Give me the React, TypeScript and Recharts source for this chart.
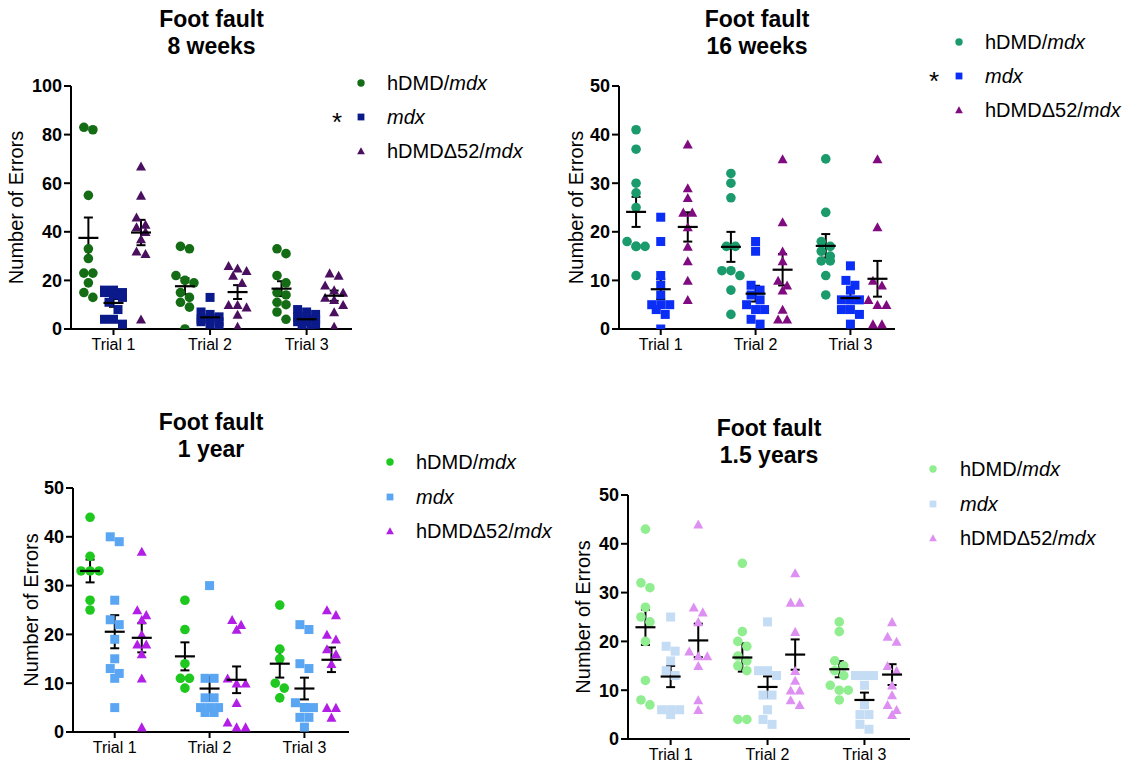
import React from "react";
import { ScatterChart, Scatter, XAxis, YAxis, ErrorBar } from "recharts";

const trials = ["Trial 1", "Trial 2", "Trial 3"];

// errors per animal, one array per trial (Trial 1, Trial 2, Trial 3)
const hdmd8w = [
  [82, 83, 55, 33, 29, 23, 23, 19, 15, 13],
  [34, 33, 22, 20, 19, 15, 13, 11, 9, 0],
  [33, 31, 22, 19, 15, 14, 11, 10, 7, 4],
];
const mdx8w = [
  [16, 16, 15, 15, 14, 13, 11, 8, 4, 4, 2],
  [13, 7, 6, 5, 4, 4, 3, 3, 2, 1],
  [8, 7, 6, 5, 5, 4, 3, 3, 2, 1, 0],
];
const d52_8w = [
  [67, 55, 46, 43, 42, 40, 37, 32, 31, 4],
  [26, 25, 24, 22, 19, 10, 9, 10, 6, 1],
  [23, 22, 18, 16, 15, 13, 12, 10, 7, 1],
];

const hdmd16w = [
  [41, 37, 30, 28, 25, 18, 17, 17, 17, 11],
  [32, 30, 27, 17, 17, 12, 12, 11, 8, 3],
  [35, 24, 18, 17, 16, 15, 14, 14, 11, 7],
];
const mdx16w = [
  [23, 18, 11, 9, 7, 5, 5, 5, 4, 3, 0],
  [18, 16, 9, 8, 7, 6, 5, 4, 4, 2, 1],
  [13, 10, 9, 8, 6, 6, 6, 4, 4, 3, 1],
];
const d52_16w = [
  [38, 29, 27, 24, 24, 21, 17, 14, 10, 6],
  [35, 22, 16, 14, 10, 9, 8, 4, 2, 2],
  [35, 21, 10, 9, 6, 5, 5, 1, 1],
];

const hdmd1y = [
  [44, 36, 33, 33, 33, 27, 25],
  [27, 21, 14, 11, 11, 9],
  [26, 17, 15, 10, 9, 7],
];
const mdx1y = [
  [40, 39, 27, 23, 22, 19, 15, 13, 12, 11, 5],
  [30, 11, 11, 7, 7, 5, 5, 5, 4, 4],
  [22, 21, 14, 13, 6, 5, 5, 5, 3, 3, 1],
];
const d52_1y = [
  [37, 25, 24, 23, 20, 18, 18, 16, 11, 1],
  [23, 22, 21, 11, 10, 10, 6, 2, 1, 1],
  [25, 24, 20, 19, 17, 16, 14, 5, 5, 3],
];

const hdmd15y = [
  [43, 32, 31, 27, 25, 24, 20, 12, 8, 7],
  [36, 22, 20, 19, 17, 16, 15, 14, 4, 4],
  [24, 22, 16, 15, 14, 13, 11, 10, 10, 8],
];
const mdx15y = [
  [25, 19, 18, 16, 14, 13, 6, 6, 6, 5],
  [24, 14, 14, 13, 9, 9, 6, 4, 3],
  [13, 13, 13, 11, 7, 5, 5, 3, 2],
];
const d52_15y = [
  [44, 27, 26, 24, 18, 17, 17, 15, 8, 6],
  [34, 28, 28, 22, 14, 12, 10, 10, 8, 7],
  [24, 21, 20, 15, 14, 11, 9, 7, 6, 5],
];

const FONT = '"Liberation Sans", Arial, Helvetica, sans-serif';
const X_DOMAIN: [number, number] = [0.56, 3.47];
const GROUP_OFFSET = [-0.26, 0, 0.285];
const AXIS_W = 70;
const MT = 20;
const MR = 10;
const XAXIS_H = 40;
const MARK = 9;
const STEP = 9;
const MAX_ROW = 3;

const mean = (v: number[]) => v.reduce((a, b) => a + b, 0) / v.length;
const sem = (v: number[]) => {
  const m = mean(v);
  const ss = v.reduce((a, b) => a + (b - m) * (b - m), 0);
  return Math.sqrt(ss / (v.length - 1)) / Math.sqrt(v.length);
};

// prism-like spread: points that would overlap are laid side by side, centred
function spread(values: number[], center: number, pxX: number, pxY: number) {
  const sorted = [...values].sort((a, b) => b - a);
  const rows: number[][] = [];
  let cur: number[] = [];
  for (const v of sorted) {
    if (cur.length && (cur[0] - v) * pxY < MARK * 0.9 && cur.length < MAX_ROW) cur.push(v);
    else {
      if (cur.length) rows.push(cur);
      cur = [v];
    }
  }
  if (cur.length) rows.push(cur);
  const out: { x: number; y: number }[] = [];
  rows.forEach((r) =>
    r.forEach((v, k) => out.push({ x: center + ((k - (r.length - 1) / 2) * STEP) / pxX, y: v }))
  );
  return out;
}

function drawMarker(kind: number, color: string, cx: number, cy: number, s: number) {
  if (kind === 0) return <circle cx={cx} cy={cy} r={s / 2 + 0.3} fill={color} />;
  if (kind === 1) return <rect x={cx - s / 2} y={cy - s / 2} width={s} height={s} fill={color} />;
  const h = s * 0.95;
  return (
    <polygon
      points={`${cx},${cy - h / 2 - 0.5} ${cx + s / 2 + 0.5},${cy + h / 2} ${cx - s / 2 - 0.5},${cy + h / 2}`}
      fill={color}
    />
  );
}

const MeanLine = (props: any) => {
  const { cx, cy } = props;
  return <line x1={cx - 10} x2={cx + 10} y1={cy} y2={cy} stroke="#000" strokeWidth={2.2} />;
};

type Panel = {
  title: string[];
  groups: number[][][];
  colors: string[];
  left: number;
  top: number;
  width: number;
  height: number;
  yMax: number;
  yStep: number;
  titleY: number;
  yLabelX: number;
  legendX: number;
  legendTextX: number;
  legendRows: number[];
  starX?: number;
};

const panels: Panel[] = [
  {
    title: ["Foot fault", "8 weeks"],
    groups: [hdmd8w, mdx8w, d52_8w],
    colors: ["#146c14", "#0b1a8a", "#4a0f5e"],
    left: 71, top: 86, width: 281, height: 243, yMax: 100, yStep: 20,
    titleY: 20, yLabelX: 16,
    legendX: 361, legendTextX: 387, legendRows: [83, 117, 151], starX: 340,
  },
  {
    title: ["Foot fault", "16 weeks"],
    groups: [hdmd16w, mdx16w, d52_16w],
    colors: ["#1b9b6c", "#0a2ef5", "#800a80"],
    left: 619, top: 86, width: 276, height: 243, yMax: 50, yStep: 10,
    titleY: 20, yLabelX: 576,
    legendX: 959, legendTextX: 985, legendRows: [42, 76, 110], starX: 937,
  },
  {
    title: ["Foot fault", "1 year"],
    groups: [hdmd1y, mdx1y, d52_1y],
    colors: ["#1ec81e", "#5aa6f2", "#b21ee6"],
    left: 73, top: 488, width: 276, height: 244, yMax: 50, yStep: 10,
    titleY: 423, yLabelX: 31,
    legendX: 390, legendTextX: 416, legendRows: [462, 497, 531],
  },
  {
    title: ["Foot fault", "1.5 years"],
    groups: [hdmd15y, mdx15y, d52_15y],
    colors: ["#90ee90", "#c5dcf5", "#de90f2"],
    left: 628, top: 495, width: 282, height: 244, yMax: 50, yStep: 10,
    titleY: 429, yLabelX: 583,
    legendX: 933, legendTextX: 960, legendRows: [469, 504, 538],
  },
];

const legendLabels = [
  <>hDMD/<i>mdx</i></>,
  <><i>mdx</i></>,
  <>hDMDΔ52/<i>mdx</i></>,
];

function FootFaultPanel({ p }: { p: Panel }) {
  const chartLeft = p.left - AXIS_W;
  const chartTop = p.top - MT;
  const pxX = p.width / (X_DOMAIN[1] - X_DOMAIN[0]);
  const pxY = p.height / p.yMax;
  const yTicks: number[] = [];
  for (let t = 0; t <= p.yMax; t += p.yStep) yTicks.push(t);

  const series = p.groups.map((g, gi) =>
    g.flatMap((vals, ti) => spread(vals, ti + 1 + GROUP_OFFSET[gi], pxX, pxY))
  );
  const means = p.groups.flatMap((g, gi) =>
    g.map((vals, ti) => ({ x: ti + 1 + GROUP_OFFSET[gi], y: mean(vals), sem: sem(vals) }))
  );

  return (
    <>
      <div
        style={{
          position: "absolute",
          left: p.left + p.width / 2 - 150,
          top: p.titleY - 14,
          width: 300,
          textAlign: "center",
          fontFamily: FONT,
          fontWeight: "bold",
          fontSize: 23,
          lineHeight: "27px",
          color: "#000",
        }}
      >
        {p.title[0]}
        <br />
        {p.title[1]}
      </div>

      <div style={{ position: "absolute", left: chartLeft, top: chartTop }}>
        <ScatterChart
          width={AXIS_W + p.width + MR}
          height={MT + p.height + XAXIS_H}
          margin={{ top: MT, right: MR, bottom: 0, left: 0 }}
        >
          <XAxis
            type="number"
            dataKey="x"
            domain={X_DOMAIN}
            ticks={[1, 2, 3]}
            interval={0}
            allowDataOverflow
            tickFormatter={(v: number) => trials[Math.round(v) - 1]}
            height={XAXIS_H}
            tickSize={6}
            tickMargin={4}
            axisLine={{ stroke: "#000", strokeWidth: 2 }}
            tickLine={{ stroke: "#000", strokeWidth: 2 }}
            tick={{ fill: "#000", fontSize: 16, fontFamily: FONT }}
          />
          <YAxis
            type="number"
            dataKey="y"
            domain={[0, p.yMax]}
            ticks={yTicks}
            interval={0}
            allowDataOverflow
            width={AXIS_W}
            tickSize={7}
            tickMargin={2}
            axisLine={{ stroke: "#000", strokeWidth: 2 }}
            tickLine={{ stroke: "#000", strokeWidth: 2 }}
            tick={{ fill: "#000", fontSize: 18, fontWeight: "bold", fontFamily: FONT }}
            label={{
              value: "Number of Errors",
              angle: -90,
              position: "insideLeft",
              offset: p.yLabelX - chartLeft,
              style: { textAnchor: "middle", fontSize: 20, fill: "#000", fontFamily: FONT },
            }}
          />
          {series.map((data, gi) => (
            <Scatter
              key={gi}
              data={data}
              fill={p.colors[gi]}
              isAnimationActive={false}
              shape={(props: any) => drawMarker(gi, p.colors[gi], props.cx, props.cy, MARK)}
            />
          ))}
          <Scatter data={means} fill="#000" shape={MeanLine} isAnimationActive={false}>
            <ErrorBar
              dataKey="sem"
              direction="y"
              width={4.5}
              strokeWidth={2}
              stroke="#000"
              isAnimationActive={false}
            />
          </Scatter>
        </ScatterChart>
      </div>

      {p.legendRows.map((row, gi) => (
        <React.Fragment key={gi}>
          <svg
            width={14}
            height={14}
            style={{ position: "absolute", left: p.legendX - 7, top: row - 7 }}
          >
            {drawMarker(gi, p.colors[gi], 7, 7, 6.8)}
          </svg>
          <div
            style={{
              position: "absolute",
              left: p.legendTextX,
              top: row - 12,
              fontFamily: FONT,
              fontSize: 20,
              lineHeight: "24px",
              whiteSpace: "nowrap",
              color: "#000",
            }}
          >
            {legendLabels[gi]}
          </div>
          {gi === 1 && p.starX !== undefined && (
            <div
              style={{
                position: "absolute",
                left: p.starX - 8,
                top: row - 10,
                fontFamily: FONT,
                fontSize: 26,
                lineHeight: "30px",
                color: "#000",
              }}
            >
              *
            </div>
          )}
        </React.Fragment>
      ))}
    </>
  );
}

export default function App() {
  return (
    <div
      style={{
        position: "absolute",
        left: 0,
        top: 0,
        width: 1131,
        height: 767,
        background: "#fff",
        overflow: "hidden",
      }}
    >
      {panels.map((p, i) => (
        <FootFaultPanel key={i} p={p} />
      ))}
    </div>
  );
}
